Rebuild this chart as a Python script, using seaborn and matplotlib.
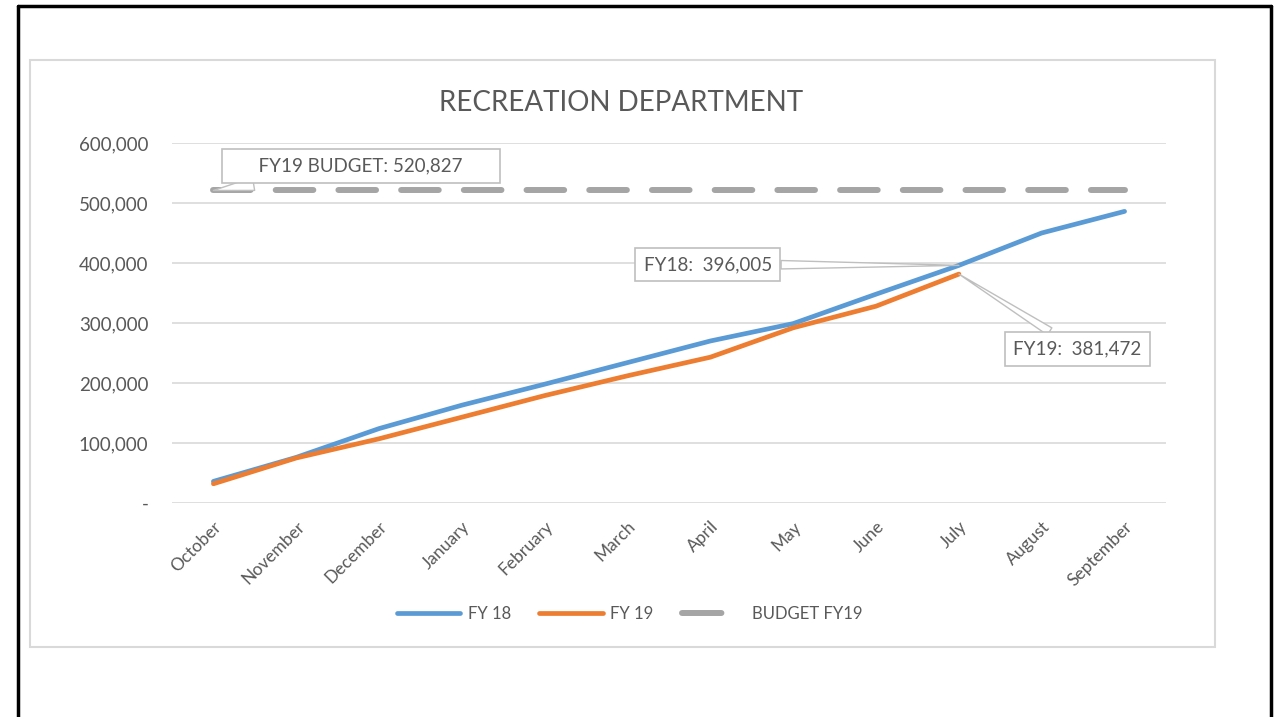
import numpy as np
import pandas as pd
import matplotlib
matplotlib.use("Agg")
import matplotlib.pyplot as plt
from matplotlib.patches import Rectangle
from matplotlib.lines import Line2D
from matplotlib.ticker import FuncFormatter, MultipleLocator
import seaborn as sns

# ---------------- data ----------------
months = ["October", "November", "December", "January", "February", "March",
          "April", "May", "June", "July", "August", "September"]
fy18 = [36000, 76000, 124000, 163000, 198000, 234000,
        270000, 299000, 348000, 396005, 450000, 486000]
fy19 = [32000, 75000, 107000, 143000, 179000, 212000,
        243000, 292000, 328000, 381472]
budget_fy19 = [520827] * 12
series_names = ["FY 18", "FY 19", "BUDGET FY19"]
title = "RECREATION DEPARTMENT"

# ---------------- style ----------------
sns.set_theme(style="white")
plt.rcParams["font.family"] = ["Lato", "DejaVu Sans"]
TXT = "#595959"
GRID = "#D9D9D9"
BLUE = "#5B9BD5"
ORANGE = "#ED7D31"
GREY = "#A5A5A5"
LW = 3.4
BLW = 4.3
DASH = (6.3, 4.2)

fig = plt.figure(figsize=(12.75, 7.17), dpi=100)
fig.patch.set_facecolor("white")
ax = fig.add_axes([0.1349, 0.2985, 0.7796, 0.5021])

x18 = np.arange(len(fy18))
x19 = np.arange(len(fy19))
xb = np.arange(len(budget_fy19))

sns.lineplot(x=xb, y=budget_fy19, ax=ax, color=GREY, lw=BLW, zorder=2)
bline = ax.lines[-1]
bline.set_dashes(DASH)
bline.set_dash_capstyle("round")
sns.lineplot(x=x18, y=fy18, ax=ax, color=BLUE, lw=LW, zorder=3)
ax.lines[-1].set_solid_capstyle("round")
sns.lineplot(x=x19, y=fy19, ax=ax, color=ORANGE, lw=LW, zorder=4)
ax.lines[-1].set_solid_capstyle("round")

ax.set_xlim(-0.5, len(months) - 0.5)
ax.set_ylim(0, 600000)
ax.yaxis.set_major_locator(MultipleLocator(100000))
ax.yaxis.set_major_formatter(FuncFormatter(lambda v, p: "-" if v == 0 else f"{int(v):,}"))
ax.grid(axis="y", color=GRID, lw=1.2, zorder=0)
ax.grid(axis="x", visible=False)
for s in ax.spines.values():
    s.set_visible(False)
ax.set_xticks(x18)
ax.set_xticklabels(months, rotation=45, ha="right", rotation_mode="anchor",
                   fontsize=12.5, color=TXT)
ax.tick_params(axis="x", length=0, pad=11)
ax.tick_params(axis="y", length=0, pad=17, labelsize=13.5, labelcolor=TXT)
ax.set_xlabel("")
ax.set_ylabel("")
ax.set_facecolor("none")

# title
fig.text(0.487, 0.857, title, ha="center", va="center", fontsize=20, color=TXT)

# annotations
box = dict(boxstyle="square,pad=0.45", fc="white", ec="#BFBFBF", lw=1.2)
wedge = dict(arrowstyle="wedge,tail_width=0.45,shrink_factor=0.5",
             fc="white", ec="#BFBFBF", lw=1.0, shrinkA=0, shrinkB=0)
wedge_b = dict(arrowstyle="wedge,tail_width=0.7,shrink_factor=0.5",
               fc="white", ec="#BFBFBF", lw=1.0, shrinkA=0, shrinkB=0)
pad_sp = " " * 6
ax.annotate(f"{pad_sp}FY19 BUDGET: {budget_fy19[0]:,}{pad_sp}", xy=(xb[0], budget_fy19[0]),
            xytext=(1.78, 561000), ha="center", va="center", fontsize=13.5,
            color=TXT, bbox=box, arrowprops=wedge_b, zorder=6)
ax.annotate(f"FY18:  {fy18[9]:,}", xy=(x18[9], fy18[9]),
            xytext=(5.97, 397500), ha="center", va="center", fontsize=13.5,
            color=TXT, bbox=box, arrowprops=wedge, zorder=6)
ax.annotate(f"FY19:  {fy19[9]:,}", xy=(x19[9], fy19[9]),
            xytext=(10.43, 256700), ha="center", va="center", fontsize=13.5,
            color=TXT, bbox=box, arrowprops=wedge, zorder=6)

# legend
handles = [Line2D([], [], color=BLUE, lw=LW, solid_capstyle="round"),
           Line2D([], [], color=ORANGE, lw=LW, solid_capstyle="round"),
           Line2D([], [], color=GREY, lw=BLW, dashes=(6.6, 30), dash_capstyle="round")]
leg = fig.legend(handles, series_names, loc="center", bbox_to_anchor=(0.494, 0.144),
                 ncol=3, frameon=False, fontsize=12, handlelength=3.8,
                 handletextpad=0.45, columnspacing=1.7)
for t in leg.get_texts():
    t.set_color(TXT)

# chart-area frame and outer black frame
fig.patches.append(Rectangle((30 / 1275, 1 - 647 / 717), (1215 - 30) / 1275,
                             (647 - 60) / 717, transform=fig.transFigure,
                             fill=False, ec=GRID, lw=1.5, zorder=0))
for xs, ys in [((18 / 1275, 18 / 1275), (0, 1 - 6 / 717)),
               ((18 / 1275, 1271 / 1275), (1 - 6 / 717, 1 - 6 / 717)),
               ((1271 / 1275, 1271 / 1275), (0, 1 - 6 / 717))]:
    fig.add_artist(Line2D(xs, ys, transform=fig.transFigure, color="black", lw=2.5))

fig.savefig("out.png", dpi=100, facecolor="white")
